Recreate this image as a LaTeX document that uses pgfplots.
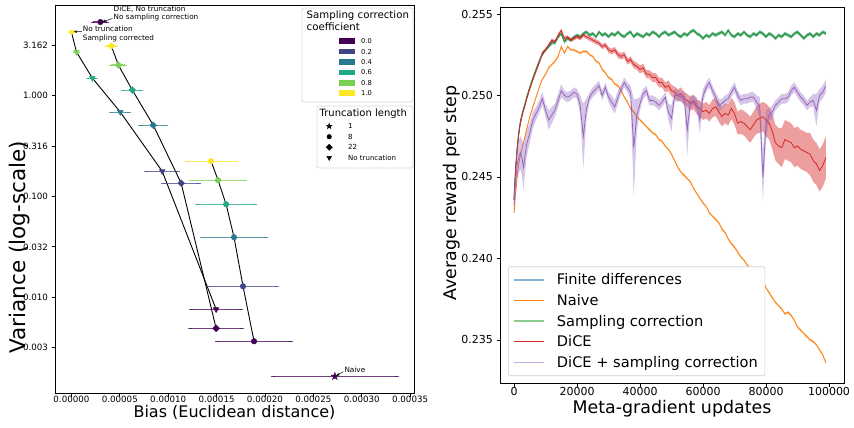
\documentclass[border=0pt]{standalone}
\usepackage{pgfplots}
\pgfplotsset{compat=1.18}
\usepackage{pgfplotstable}
\usetikzlibrary{arrows.meta}
\usepackage{fontspec}
\setmainfont{DejaVu Sans}

% viridis steps for the sampling correction coefficient
\definecolor{v0}{HTML}{440154}
\definecolor{v2}{HTML}{414487}
\definecolor{v4}{HTML}{2A788E}
\definecolor{v6}{HTML}{22A884}
\definecolor{v8}{HTML}{7AD151}
\definecolor{v10}{HTML}{FDE725}
% tab10
\definecolor{tblue}{HTML}{1F77B4}
\definecolor{torange}{HTML}{FF7F0E}
\definecolor{tgreen}{HTML}{2CA02C}
\definecolor{tred}{HTML}{D62728}
\definecolor{tpurple}{HTML}{9467BD}

\pgfdeclareplotmark{fstar}{%
  \pgfpathmoveto{\pgfpointpolar{90}{1.25\pgfplotmarksize}}%
  \pgfpathlineto{\pgfpointpolar{126}{0.5\pgfplotmarksize}}%
  \pgfpathlineto{\pgfpointpolar{162}{1.25\pgfplotmarksize}}%
  \pgfpathlineto{\pgfpointpolar{198}{0.5\pgfplotmarksize}}%
  \pgfpathlineto{\pgfpointpolar{234}{1.25\pgfplotmarksize}}%
  \pgfpathlineto{\pgfpointpolar{270}{0.5\pgfplotmarksize}}%
  \pgfpathlineto{\pgfpointpolar{306}{1.25\pgfplotmarksize}}%
  \pgfpathlineto{\pgfpointpolar{342}{0.5\pgfplotmarksize}}%
  \pgfpathlineto{\pgfpointpolar{18}{1.25\pgfplotmarksize}}%
  \pgfpathlineto{\pgfpointpolar{54}{0.5\pgfplotmarksize}}%
  \pgfpathclose\pgfusepathqfillstroke}

\pgfplotsset{
  pt/.style={only marks, color=#1, line width=0.4pt,
    error bars/x dir=both, error bars/x explicit,
    error bars/error bar style={color=#1, opacity=0.75, line width=1.1pt},
    error bars/error mark options={color=#1, opacity=0.75, mark size=2pt, line width=1pt}},
  tri/.style={mark=triangle*, mark size=3.3pt, mark options={rotate=180}},
  dia/.style={mark=square*, mark size=2.4pt, mark options={rotate=45}},
  cir/.style={mark=*, mark size=2.8pt},
  one/.style={x filter/.expression={\coordindex==#1 ? x : nan}},
  legendonly/.style={scale only axis, width=10pt, height=10pt, hide axis,
    xmin=0, xmax=1, ymin=0, ymax=1, legend cell align=left},
  rbase/.style={at={(500pt,-7pt)}, anchor=north west, scale only axis,
    width=344pt, height=376pt, xmin=-4450, xmax=104760, ymin=0.23236, ymax=0.25543},
}

% one reward curve: shaded band (mean +- err) and its line, in an overlaid axis
% #1 mean column, #2 error column, #3 colour, #4 band opacity
\newcommand{\bandline}[4]{%
\begin{axis}[rbase, hide axis]
\addplot[stack plots=y, draw=none, forget plot] table[x=x, y expr=\thisrow{#1}-\thisrow{#2}] {\reward};
\addplot[stack plots=y, draw=none, fill=#3, fill opacity=#4, forget plot] table[x=x, y expr=2*\thisrow{#2}] {\reward} \closedcycle;
\addplot[#3, line width=0.8pt, forget plot] table[x=x, y=#1] {\reward};
\end{axis}}

% variance / bias per truncation length, rows: coefficient 1.0, 0.8, ..., 0.0
\pgfplotstableread{
x        y        ex
0.0      4.30     2.0e-6
5.2e-6   2.72     2.0e-6
2.16e-5  1.50     4.1e-6
5.05e-5  0.689    9.3e-6
9.38e-5  0.178    1.65e-5
1.495e-4 0.00758  2.58e-5
}\notrunc
\pgfplotstableread{
x        y        ex
4.12e-5  3.12     5.2e-6
4.85e-5  2.02     7.2e-6
6.29e-5  1.14     9.3e-6
8.45e-5  0.511    1.34e-5
1.134e-4 0.1356   1.86e-5
1.495e-4 0.00491  2.68e-5
}\trunctwtwo
\pgfplotstableread{
x        y        ex
1.443e-4 0.2244   2.53e-5
1.515e-4 0.1452   2.78e-5
1.598e-4 0.0838   2.99e-5
1.680e-4 0.0394   3.30e-5
1.773e-4 0.01283  3.50e-5
1.887e-4 0.00365  3.87e-5
}\trunceight
\pgfplotstableread{
x        y        ex
2.99e-5  5.40     7.2e-6
}\dice
\pgfplotstableread{
x        y        ex
2.722e-4 0.001637 6.44e-5
}\naive

% reward curves
\pgfplotstableread{
x     fd      sc     sce     nv     nve     dc     dce     dp     dpe
0     0.2436  0.2437 0.0001  0.2428 0.00006 0.2436 0.0001  0.2433 0.0006
500   0.2455  0.2455 0.0002  0.2440 0.0001  0.2454 0.0002  0.2447 0.0008
1000  0.2467  0.2468 0.0002  0.2450 0.0001  0.2467 0.0002  0.2458 0.0009
1500  0.2477  0.2477 0.00015 0.2458 0.0001  0.2476 0.00015 0.2462 0.0010
2000  0.2483  0.2484 0.00015 0.2463 0.0001  0.2483 0.00015 0.2465 0.0010
2500  0.2488  0.2488 0.0001  0.2467 0.00008 0.2487 0.0001  0.2462 0.0011
3000  0.2491  0.2492 0.0001  0.2471 0.00008 0.2491 0.0001  0.2456 0.0014
3500  0.2495  0.2495 0.0001  0.2475 0.00008 0.2494 0.0001  0.2463 0.0010
4000  0.2498  0.2499 0.0001  0.2479 0.00008 0.2498 0.0001  0.2470 0.0008
5000  0.2505  0.2505 0.0001  0.2487 0.00008 0.2504 0.0001  0.2477 0.0006
6000  0.2510  0.2511 0.0001  0.2493 0.00008 0.2510 0.0001  0.2485 0.0005
7000  0.2516  0.2516 0.0001  0.2499 0.00008 0.2515 0.0001  0.2489 0.0004
8000  0.2521  0.2521 0.0001  0.2505 0.00008 0.2520 0.0001  0.2493 0.0004
9000  0.2525  0.2526 0.0001  0.2510 0.00008 0.2526 0.0001  0.2498 0.0004
10000 0.2528  0.2528 0.0001  0.2513 0.00008 0.2528 0.0001  0.2491 0.0004
11000 0.2530  0.2530 0.0001  0.2517 0.00008 0.2531 0.0001  0.2485 0.0006
12000 0.2532  0.2533 0.0001  0.2519 0.00008 0.2534 0.0001  0.2488 0.0005
13000 0.2533  0.2532 0.0001  0.2521 0.00008 0.2533 0.0001  0.2491 0.0004
14000 0.2536  0.2536 0.0001  0.2524 0.00008 0.2537 0.0001  0.2497 0.0004
15000 0.2538  0.2538 0.0001  0.2530 0.00008 0.2540 0.0001  0.2503 0.0004
16000 0.2533  0.2533 0.0001  0.2526 0.00008 0.2535 0.0001  0.2500 0.0003
17000 0.2535  0.2535 0.0001  0.2530 0.00008 0.2536 0.0001  0.2499 0.0003
18000 0.2534  0.2534 0.0001  0.2528 0.00008 0.2534 0.00012 0.2500 0.0003
19000 0.2536  0.2535 0.0001  0.2528 0.00008 0.2535 0.00012 0.2502 0.0003
20000 0.2537  0.2537 0.0001  0.2527 0.00008 0.2536 0.00012 0.2501 0.0003
21000 0.2536  0.2536 0.0001  0.2526 0.00008 0.2535 0.00012 0.2494 0.0006
22000 0.2538  0.2538 0.0001  0.2527 0.00008 0.2537 0.00012 0.2475 0.0020
23000 0.2539  0.2539 0.0001  0.2527 0.00008 0.2536 0.00012 0.2492 0.0006
24000 0.2537  0.2537 0.0001  0.2525 0.00008 0.2535 0.00015 0.2499 0.0003
25000 0.2538  0.2538 0.0001  0.2524 0.00008 0.2534 0.00015 0.2502 0.0003
26000 0.2536  0.2536 0.0001  0.2521 0.00008 0.2533 0.00015 0.2504 0.0003
27000 0.2539  0.2539 0.0001  0.2520 0.00008 0.2532 0.00015 0.2506 0.0003
28000 0.2537  0.2537 0.0001  0.2516 0.00008 0.2530 0.00015 0.2500 0.0003
29000 0.2538  0.2538 0.0001  0.2514 0.00008 0.2531 0.00015 0.2505 0.0003
30000 0.2536  0.2536 0.0001  0.2511 0.00008 0.2528 0.00018 0.2499 0.0003
31000 0.2538  0.2538 0.0001  0.2510 0.00008 0.2527 0.00018 0.2496 0.0004
32000 0.2537  0.2537 0.0001  0.2507 0.00008 0.2528 0.00018 0.2493 0.0004
33000 0.2539  0.2539 0.0001  0.2506 0.00008 0.2525 0.0002  0.2499 0.0004
34000 0.2537  0.2537 0.0001  0.2503 0.00008 0.2524 0.0002  0.2504 0.0003
35000 0.2536  0.2536 0.0001  0.2499 0.00008 0.2525 0.0002  0.2508 0.0003
36000 0.2538  0.2538 0.0001  0.2496 0.00008 0.2521 0.0002  0.2505 0.0003
37000 0.2539  0.2539 0.0001  0.2492 0.00008 0.2522 0.0002  0.2502 0.0004
38000 0.2536  0.2536 0.0001  0.2490 0.00008 0.2519 0.00022 0.2468 0.0030
39000 0.2538  0.2538 0.0001  0.2487 0.00008 0.2518 0.00022 0.2488 0.0010
40000 0.2537  0.2537 0.0001  0.2485 0.00008 0.2516 0.00025 0.2495 0.0004
41000 0.2536  0.2536 0.0001  0.2483 0.00008 0.2517 0.00025 0.2501 0.0003
42000 0.2538  0.2538 0.0001  0.2481 0.00008 0.2513 0.00025 0.2503 0.0003
43000 0.2537  0.2537 0.0001  0.2479 0.00008 0.2513 0.00025 0.2497 0.0003
44000 0.2539  0.2539 0.0001  0.2477 0.00008 0.2511 0.00028 0.2497 0.0003
45000 0.2538  0.2538 0.0001  0.2476 0.00008 0.2511 0.00028 0.2496 0.0003
46000 0.2536  0.2536 0.0001  0.2473 0.00008 0.2508 0.0003  0.2494 0.0003
47000 0.2538  0.2538 0.0001  0.2472 0.00008 0.2508 0.0003  0.2496 0.0003
48000 0.2539  0.2539 0.0001  0.2469 0.00008 0.2505 0.0003  0.2499 0.0003
49000 0.2537  0.2537 0.0001  0.2467 0.00008 0.2506 0.00033 0.2490 0.0005
50000 0.2538  0.2538 0.0001  0.2464 0.00008 0.2503 0.00035 0.2486 0.0008
51000 0.2539  0.2539 0.0001  0.2460 0.00008 0.2502 0.00035 0.2500 0.0004
52000 0.2537  0.2537 0.0001  0.2456 0.00008 0.2500 0.00038 0.2500 0.0003
53000 0.2536  0.2536 0.0001  0.2453 0.00008 0.2501 0.0004  0.2499 0.0003
54000 0.2538  0.2538 0.0001  0.2451 0.00008 0.2498 0.0004  0.2499 0.0004
55000 0.2537  0.2537 0.0001  0.2449 0.00008 0.2497 0.0004  0.2479 0.0016
56000 0.2539  0.2539 0.0001  0.2447 0.00008 0.2495 0.00042 0.2496 0.0004
57000 0.2540  0.2540 0.0001  0.2443 0.00008 0.2496 0.00045 0.2497 0.0003
58000 0.2538  0.2538 0.0001  0.2440 0.00008 0.2493 0.00045 0.2495 0.0004
59000 0.2537  0.2537 0.0001  0.2437 0.00008 0.2492 0.00048 0.2485 0.0008
60000 0.2535  0.2535 0.0001  0.2434 0.00008 0.2490 0.0005  0.2500 0.0004
61000 0.2537  0.2537 0.0001  0.2432 0.00008 0.2491 0.0005  0.2505 0.0003
62000 0.2536  0.2536 0.0001  0.2428 0.00008 0.2489 0.0005  0.2508 0.0003
63000 0.2538  0.2538 0.0001  0.2426 0.00008 0.2492 0.00055 0.2503 0.0003
64000 0.2537  0.2537 0.0001  0.2424 0.00008 0.2493 0.00055 0.2499 0.0003
65000 0.2538  0.2538 0.0001  0.2422 0.00008 0.2490 0.0006  0.2494 0.0004
66000 0.2539  0.2539 0.0001  0.2418 0.00008 0.2487 0.0006  0.2495 0.0003
67000 0.2537  0.2537 0.0001  0.2416 0.00008 0.2489 0.0006  0.2497 0.0003
68000 0.2540  0.2540 0.0001  0.2412 0.00008 0.2488 0.00065 0.2498 0.0003
69000 0.2537  0.2537 0.0001  0.2409 0.00008 0.2492 0.00065 0.2502 0.0003
70000 0.2536  0.2536 0.0001  0.2407 0.00008 0.2489 0.0007  0.2505 0.0003
71000 0.2538  0.2538 0.0001  0.2404 0.00008 0.2483 0.0007  0.2500 0.0003
72000 0.2537  0.2537 0.0001  0.2401 0.00008 0.2484 0.00075 0.2497 0.0003
73000 0.2539  0.2539 0.0001  0.2399 0.00008 0.2483 0.00075 0.2498 0.0003
74000 0.2537  0.2537 0.0001  0.2396 0.00008 0.2481 0.0008  0.2498 0.0003
75000 0.2536  0.2536 0.0001  0.2394 0.0001  0.2479 0.0008  0.2499 0.0003
76000 0.2538  0.2538 0.0001  0.2392 0.0001  0.2482 0.0008  0.2499 0.0003
77000 0.2537  0.2537 0.0001  0.2388 0.00008 0.2485 0.00085 0.2496 0.0004
78000 0.2539  0.2539 0.0001  0.2385 0.00008 0.2486 0.0009  0.2493 0.0006
79000 0.2538  0.2538 0.0001  0.2387 0.00008 0.2487 0.0009  0.2450 0.0015
80000 0.2536  0.2536 0.0001  0.2382 0.00008 0.2485 0.0010  0.2482 0.0009
81000 0.2538  0.2538 0.0001  0.2379 0.00008 0.2483 0.0010  0.2488 0.0004
82000 0.2537  0.2537 0.0001  0.2376 0.00008 0.2478 0.0011  0.2490 0.0004
83000 0.2535  0.2535 0.0001  0.2373 0.00008 0.2471 0.0011  0.2494 0.0003
84000 0.2537  0.2537 0.0001  0.2371 0.00008 0.2469 0.0011  0.2496 0.0003
85000 0.2536  0.2536 0.0001  0.2369 0.00008 0.2468 0.0012  0.2498 0.0003
86000 0.2538  0.2538 0.0001  0.2366 0.00008 0.2473 0.0012  0.2498 0.0003
87000 0.2537  0.2537 0.0001  0.2367 0.00008 0.2472 0.0012  0.2499 0.0003
88000 0.2536  0.2536 0.0001  0.2365 0.00008 0.2471 0.0012  0.2503 0.0003
89000 0.2538  0.2538 0.0001  0.2362 0.00008 0.2468 0.0012  0.2505 0.0003
90000 0.2539  0.2539 0.0001  0.2358 0.00008 0.2469 0.0012  0.2502 0.0003
91000 0.2537  0.2537 0.0001  0.2356 0.00008 0.2467 0.0012  0.2499 0.0003
92000 0.2535  0.2535 0.0001  0.2354 0.00008 0.2466 0.0012  0.2497 0.0003
93000 0.2537  0.2537 0.0001  0.2352 0.00008 0.2465 0.0012  0.2494 0.0003
94000 0.2538  0.2538 0.0001  0.2350 0.00008 0.2464 0.0013  0.2496 0.0003
95000 0.2536  0.2536 0.0001  0.2349 0.00008 0.2460 0.0013  0.2497 0.0004
96000 0.2538  0.2538 0.0001  0.2347 0.00008 0.2458 0.0013  0.2491 0.0010
97000 0.2537  0.2537 0.0001  0.2344 0.00008 0.2454 0.0013  0.2500 0.0004
98000 0.2539  0.2539 0.0001  0.2341 0.00008 0.2457 0.0013  0.2502 0.0004
99000 0.2538  0.2538 0.0001  0.2336 0.00008 0.2462 0.0013  0.2506 0.0004
}\reward

\begin{document}
\begin{tikzpicture}
\useasboundingbox (0pt,0pt) rectangle (854pt,-428pt);

% ---------------- left: bias vs variance ----------------
\begin{axis}[
  at={(55pt,-5.3pt)}, anchor=north west, scale only axis,
  width=359pt, height=388pt, clip=false,
  xmin=-0.000017, xmax=0.000354,
  ymode=log, ymin=0.00111, ymax=7.92,
  xtick={0,0.00005,0.0001,0.00015,0.0002,0.00025,0.0003,0.00035},
  xticklabels={0.00000,0.00005,0.00010,0.00015,0.00020,0.00025,0.00030,0.00035},
  ytick={0.0031623,0.01,0.031623,0.1,0.31623,1,3.1623},
  yticklabels={0.003,0.010,0.032,0.100,0.316,1.000,3.162},
  yminorticks=false, scaled x ticks=false,
  tick align=outside, xtick pos=bottom, ytick pos=left,
  major tick length=3.5pt, tick style={black, line width=0.8pt},
  axis line style={line width=0.9pt},
  ticklabel style={font=\fontsize{8.7}{10}\selectfont},
  xticklabel shift=-4pt,
  xlabel={Bias (Euclidean distance)},
  xlabel style={font=\fontsize{16}{19}\selectfont, at={(axis description cs:0.5,-0.062)}, anchor=base},
  ylabel={Variance (log-scale)},
  ylabel style={font=\fontsize{21.5}{26}\selectfont, at={(axis description cs:-0.099,0.377)}, anchor=center},
]
\addplot[black, line width=0.9pt, forget plot] table[x=x,y=y] {\notrunc};
\addplot[black, line width=0.9pt, forget plot] table[x=x,y=y] {\trunctwtwo};
\addplot[black, line width=0.9pt, forget plot] table[x=x,y=y] {\trunceight};

\addplot[pt=v10, tri, one=0] table[x=x,y=y,x error=ex] {\notrunc};
\addplot[pt=v8,  tri, one=1] table[x=x,y=y,x error=ex] {\notrunc};
\addplot[pt=v6,  tri, one=2] table[x=x,y=y,x error=ex] {\notrunc};
\addplot[pt=v4,  tri, one=3] table[x=x,y=y,x error=ex] {\notrunc};
\addplot[pt=v2,  tri, one=4] table[x=x,y=y,x error=ex] {\notrunc};
\addplot[pt=v0,  tri, one=5] table[x=x,y=y,x error=ex] {\notrunc};

\addplot[pt=v10, dia, one=0] table[x=x,y=y,x error=ex] {\trunctwtwo};
\addplot[pt=v8,  dia, one=1] table[x=x,y=y,x error=ex] {\trunctwtwo};
\addplot[pt=v6,  dia, one=2] table[x=x,y=y,x error=ex] {\trunctwtwo};
\addplot[pt=v4,  dia, one=3] table[x=x,y=y,x error=ex] {\trunctwtwo};
\addplot[pt=v2,  dia, one=4] table[x=x,y=y,x error=ex] {\trunctwtwo};
\addplot[pt=v0,  dia, one=5] table[x=x,y=y,x error=ex] {\trunctwtwo};

\addplot[pt=v10, cir, one=0] table[x=x,y=y,x error=ex] {\trunceight};
\addplot[pt=v8,  cir, one=1] table[x=x,y=y,x error=ex] {\trunceight};
\addplot[pt=v6,  cir, one=2] table[x=x,y=y,x error=ex] {\trunceight};
\addplot[pt=v4,  cir, one=3] table[x=x,y=y,x error=ex] {\trunceight};
\addplot[pt=v2,  cir, one=4] table[x=x,y=y,x error=ex] {\trunceight};
\addplot[pt=v0,  cir, one=5] table[x=x,y=y,x error=ex] {\trunceight};

\addplot[pt=v0, cir] table[x=x,y=y,x error=ex] {\dice};
\addplot[pt=v0, mark=fstar, mark size=3.2pt] table[x=x,y=y,x error=ex] {\naive};

% annotations
\node[anchor=west, align=left, inner sep=0pt, font=\fontsize{7.3}{8.4}\selectfont]
  at (axis cs:4.35e-5,6.6) {DiCE, No truncation\\No sampling correction};
\draw[-{Stealth[length=3.2pt,width=2.6pt]}, line width=0.5pt] (axis cs:4.25e-5,5.85) -- (axis cs:3.2e-5,5.45);
\node[anchor=west, align=left, inner sep=0pt, font=\fontsize{7.3}{8.4}\selectfont]
  at (axis cs:1.16e-5,4.1) {No truncation\\Sampling corrected};
\draw[-{Stealth[length=3.2pt,width=2.6pt]}, line width=0.5pt] (axis cs:1.08e-5,4.35) -- (axis cs:0.25e-5,4.33);
\node[anchor=south west, inner sep=0pt, font=\fontsize{7.3}{8.4}\selectfont]
  at (axis cs:2.82e-4,0.00176) {Naive};
\draw[-{Stealth[length=3.2pt,width=2.6pt]}, line width=0.5pt] (axis cs:2.81e-4,0.00182) -- (axis cs:2.74e-4,0.00167);
\end{axis}

% legend frames and titles (left)
\draw[black!15, fill=white, rounded corners=2pt, line width=0.7pt] (302pt,-8pt) rectangle (413pt,-102pt);
\node[anchor=north west, align=left, inner sep=0pt, font=\fontsize{10.2}{12.2}\selectfont]
  at (306.5pt,-10.5pt) {Sampling correction\\coefficient};
\draw[black!15, fill=white, rounded corners=2pt, line width=0.7pt] (317pt,-106pt) rectangle (413pt,-168pt);
\node[anchor=west, inner sep=0pt, font=\fontsize{10}{12}\selectfont]
  at (319.5pt,-113.5pt) {Truncation length};

\begin{axis}[
  at={(339pt,-35.8pt)}, anchor=north west, legendonly,
  legend style={at={(axis description cs:0,1)}, anchor=north west, draw=none, fill=none,
    inner sep=0pt, row sep=0pt, font=\fontsize{6.7}{8}\selectfont,
    nodes={inner xsep=0pt, inner ysep=0pt, text height=7.65pt, text depth=2.75pt}},
  legend image code/.code={\fill[#1, draw=none] (0pt,-2.85pt) rectangle (16pt,2.85pt);
    \path[draw=none, fill=none] (0pt,0pt) (22pt,0pt);},
]
\addplot[draw=none, forget plot] coordinates {(0,0) (1,1)};
\addlegendimage{fill=v0}\addlegendentry{0.0}
\addlegendimage{fill=v2}\addlegendentry{0.2}
\addlegendimage{fill=v4}\addlegendentry{0.4}
\addlegendimage{fill=v6}\addlegendentry{0.6}
\addlegendimage{fill=v8}\addlegendentry{0.8}
\addlegendimage{fill=v10}\addlegendentry{1.0}
\end{axis}

\begin{axis}[
  at={(325pt,-120.75pt)}, anchor=north west, legendonly,
  legend style={at={(axis description cs:0,1)}, anchor=north west, draw=none, fill=none,
    inner sep=0pt, row sep=0pt, font=\fontsize{7}{8}\selectfont,
    nodes={inner xsep=0pt, inner ysep=0pt, text height=7.7pt, text depth=2.8pt}},
  legend image code/.code={\draw[#1] plot coordinates {(4pt,0pt)};
    \path[draw=none, fill=none] (0pt,0pt) (23pt,0pt);},
]
\addplot[draw=none, forget plot] coordinates {(0,0) (1,1)};
\addlegendimage{only marks, black, mark=fstar, mark size=2.4pt}\addlegendentry{1}
\addlegendimage{only marks, black, mark=*, mark size=2.3pt}\addlegendentry{8}
\addlegendimage{only marks, black, mark=square*, mark size=2.2pt, mark options={rotate=45}}\addlegendentry{22}
\addlegendimage{only marks, black, mark=triangle*, mark size=2.8pt, mark options={rotate=180}}\addlegendentry{No truncation}
\end{axis}

% ---------------- right: reward curves ----------------
\bandline{fd}{sce}{tblue}{0.4}
\bandline{nv}{nve}{torange}{0.4}
\bandline{sc}{sce}{tgreen}{0.4}
\bandline{dc}{dce}{tred}{0.45}
\bandline{dp}{dpe}{tpurple}{0.38}

\begin{axis}[
  rbase,
  xtick={0,20000,40000,60000,80000,100000},
  xticklabels={0,20000,40000,60000,80000,100000},
  ytick={0.235,0.24,0.245,0.25,0.255},
  yticklabels={0.235,0.240,0.245,0.250,0.255},
  scaled ticks=false,
  tick align=outside, xtick pos=bottom, ytick pos=left,
  major tick length=3.5pt, tick style={black, line width=0.8pt},
  axis line style={line width=0.9pt},
  ticklabel style={font=\fontsize{11}{13}\selectfont},
  xticklabel shift=-3pt,
  xlabel={Meta-gradient updates},
  xlabel style={font=\fontsize{17.4}{20}\selectfont, at={(axis description cs:0.5,-0.08)}, anchor=base},
  ylabel={Average reward per step},
  ylabel style={font=\fontsize{17.4}{20}\selectfont, at={(axis description cs:-0.1395,0.505)}, anchor=center},
  legend cell align=left,
  legend style={at={(axis description cs:0.0233,0.0186)}, anchor=south west,
    draw=black!18, rounded corners=2pt, fill=white, line width=0.7pt,
    inner xsep=5pt, inner ysep=3pt, row sep=0pt, font=\fontsize{14.6}{17}\selectfont,
    /tikz/every odd column/.append style={column sep=10pt},
    nodes={inner xsep=2pt, inner ysep=0pt, text height=15.2pt, text depth=5.4pt}},
  legend image code/.code={\draw[#1] (0pt,0pt) -- (30pt,0pt);},
]
\addplot[draw=none, forget plot] coordinates {(0,0.24) (1000,0.24)};
\addlegendimage{tblue!55, line width=1.6pt}\addlegendentry{Finite differences}
\addlegendimage{torange, line width=0.9pt}\addlegendentry{Naive}
\addlegendimage{tgreen!55, line width=1.6pt}\addlegendentry{Sampling correction}
\addlegendimage{tred, line width=0.9pt}\addlegendentry{DiCE}
\addlegendimage{tpurple!55, line width=1.6pt}\addlegendentry{DiCE + sampling correction}
\end{axis}
\end{tikzpicture}
\end{document}
